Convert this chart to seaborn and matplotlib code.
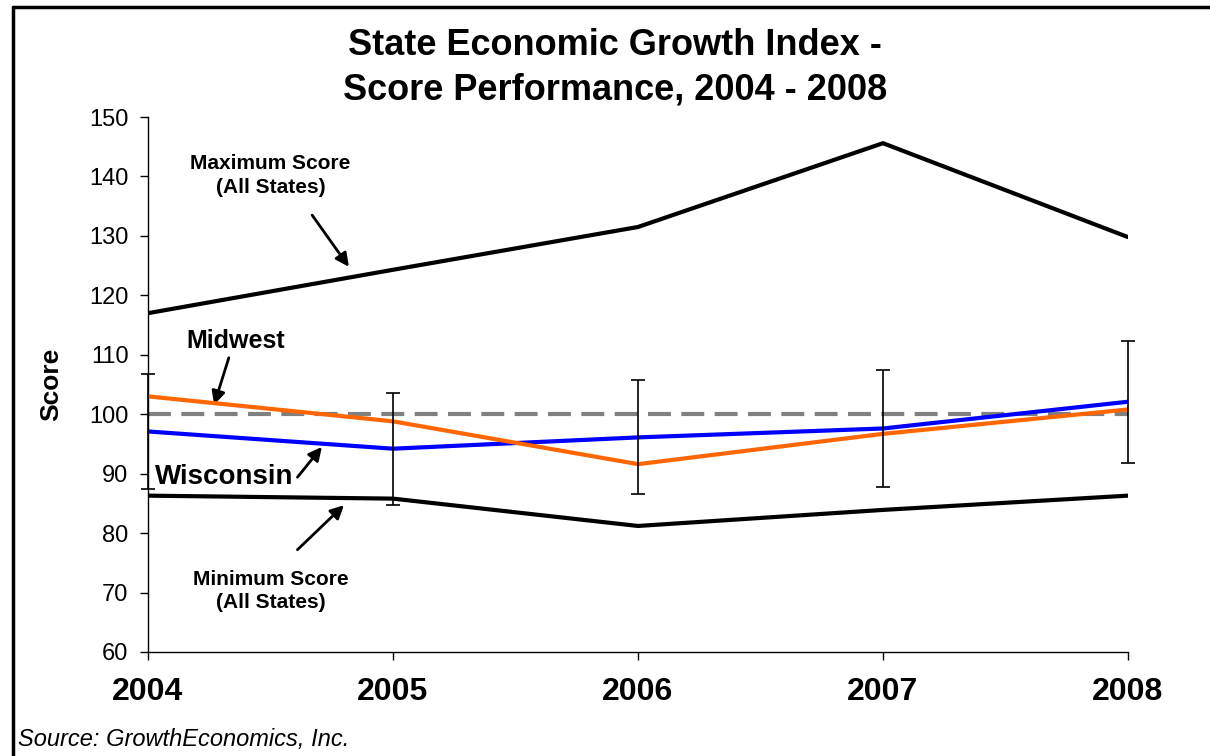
import matplotlib
matplotlib.use("Agg")
import matplotlib.pyplot as plt
from matplotlib.lines import Line2D
import pandas as pd
import seaborn as sns

# Data
years = [2004, 2005, 2006, 2007, 2008]
max_score = [117.0, 124.3, 131.5, 145.6, 129.8]
min_score = [86.3, 85.8, 81.2, 83.9, 86.3]
midwest = [103.0, 98.8, 91.6, 96.7, 100.8]
wisconsin = [97.1, 94.2, 96.1, 97.6, 102.1]
wi_err = [9.7, 9.4, 9.6, 9.9, 10.3]
baseline = 100

sns.set_style("white")
plt.rcParams["font.family"] = ["Liberation Sans", "DejaVu Sans"]
plt.rcParams["text.color"] = "black"
plt.rcParams["axes.labelcolor"] = "black"
plt.rcParams["xtick.color"] = "black"
plt.rcParams["ytick.color"] = "black"

df = pd.DataFrame({"year": years, "max": max_score, "min": min_score,
                   "midwest": midwest, "wisconsin": wisconsin})

fig = plt.figure(figsize=(12.1, 7.56), dpi=100)
ax = fig.add_axes([0.1223, 0.1376, 0.8099, 0.7076])

ax.axhline(baseline, color="#808080", lw=3, ls=(0, (5.5, 2.5)), zorder=1)
sns.lineplot(data=df, x="year", y="max", color="black", lw=3, ax=ax, zorder=2)
sns.lineplot(data=df, x="year", y="min", color="black", lw=3, ax=ax, zorder=2)
sns.lineplot(data=df, x="year", y="wisconsin", color="#0000FF", lw=3, ax=ax, zorder=3)
sns.lineplot(data=df, x="year", y="midwest", color="#FF6600", lw=3, ax=ax, zorder=4)
ax.errorbar(years, wisconsin, yerr=wi_err, fmt="none", ecolor="black",
            elinewidth=1.2, capsize=4.7, capthick=1.2, zorder=5, clip_on=False)

ax.set_xlim(2004, 2008)
ax.set_ylim(60, 150)
ax.set_xticks(years)
ax.set_xticklabels([str(y) for y in years], fontsize=23, fontweight="bold")
ax.set_yticks(range(60, 151, 10))
ax.tick_params(axis="y", labelsize=17, direction="out", length=6, width=1, left=True, pad=8)
ax.tick_params(axis="x", direction="out", length=6, width=1, bottom=True, pad=12)
ax.set_xlabel("")
ax.set_ylabel("Score", fontsize=19, fontweight="bold")
ax.yaxis.set_label_coords(-0.086, 0.5)
sns.despine(ax=ax)
for s in ["left", "bottom"]:
    ax.spines[s].set_color("black")
    ax.spines[s].set_linewidth(1)

fig.text(0.508, 0.911, "State Economic Growth Index -\nScore Performance, 2004 - 2008",
         ha="center", va="center", fontsize=26, fontweight="bold", linespacing=1.35)

arrow = dict(arrowstyle="-|>", color="black", lw=2, mutation_scale=20, shrinkA=0, shrinkB=0)
ax.annotate("", xy=(2004.82, 124.8), xytext=(2004.67, 133.5), arrowprops=arrow)
ax.text(2004.50, 140.2, "Maximum Score\n(All States)", ha="center", va="center",
        fontsize=15, fontweight="bold", linespacing=1.3)
ax.annotate("", xy=(2004.27, 101.6), xytext=(2004.33, 109.5), arrowprops=arrow)
ax.text(2004.36, 112.3, "Midwest", ha="center", va="center", fontsize=18, fontweight="bold")
ax.annotate("", xy=(2004.71, 94.5), xytext=(2004.61, 89.4), arrowprops=arrow)
ax.text(2004.31, 89.4, "Wisconsin", ha="center", va="center", fontsize=20, fontweight="bold")
ax.annotate("", xy=(2004.80, 84.7), xytext=(2004.61, 77.2), arrowprops=arrow)
ax.text(2004.50, 70.3, "Minimum Score\n(All States)", ha="center", va="center",
        fontsize=15, fontweight="bold", linespacing=1.3)

fig.text(0.015, 0.006, "Source: GrowthEconomics, Inc.", ha="left", va="bottom",
         fontsize=17, style="italic")

# frame lines (left and top only)
fig.add_artist(Line2D([0.011, 0.011], [0, 0.991], color="black", lw=2.5))
fig.add_artist(Line2D([0.011, 1.0], [0.991, 0.991], color="black", lw=2.5))

fig.savefig("out.png", dpi=100)
